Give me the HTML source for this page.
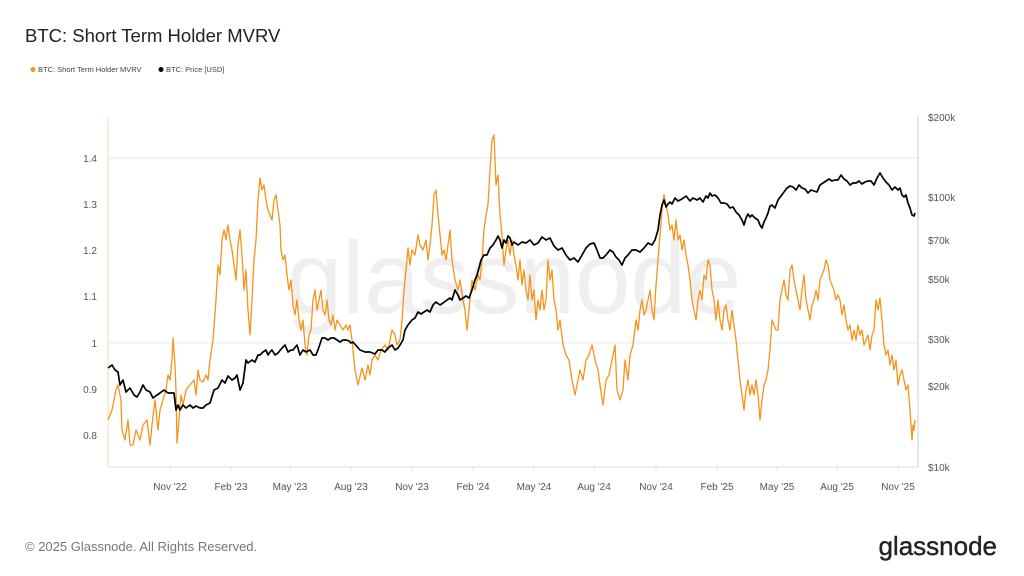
<!DOCTYPE html>
<html><head><meta charset="utf-8"><style>
html,body{margin:0;padding:0;background:#fff;width:1024px;height:576px;overflow:hidden;font-family:"Liberation Sans",sans-serif}
</style></head><body>
<svg width="1024" height="576" xmlns="http://www.w3.org/2000/svg" font-family="Liberation Sans, sans-serif">
<text x="25" y="42" font-size="18.5" fill="#222">BTC: Short Term Holder MVRV</text>
<circle cx="33" cy="69.5" r="2.5" fill="#f7931a"/><text x="38" y="72" font-size="7.5" fill="#444">BTC: Short Term Holder MVRV</text>
<circle cx="161" cy="69.5" r="2.5" fill="#000"/><text x="166" y="72" font-size="7.5" fill="#444">BTC: Price [USD]</text>
<text x="514" y="313" font-size="102" fill="#efefef" text-anchor="middle" textLength="455" lengthAdjust="spacingAndGlyphs">glassnode</text>
<line x1="108" y1="158" x2="918" y2="158" stroke="#e8e8e8"/>
<line x1="108" y1="343" x2="918" y2="343" stroke="#e8e8e8"/>
<line x1="108" y1="117" x2="108" y2="467" stroke="#fbd9b0"/>
<line x1="918" y1="117" x2="918" y2="467" stroke="#ccc"/>
<line x1="108" y1="467" x2="918" y2="467" stroke="#ddd"/>
<g font-size="10" fill="#555" text-anchor="end">
<text x="97" y="162">1.4</text><text x="97" y="208">1.3</text><text x="97" y="254">1.2</text><text x="97" y="300">1.1</text><text x="97" y="347">1</text><text x="97" y="393">0.9</text><text x="97" y="439">0.8</text></g>
<g font-size="10" fill="#555">
<text x="928" y="121">$200k</text><text x="928" y="201">$100k</text><text x="928" y="244">$70k</text><text x="928" y="283">$50k</text><text x="928" y="343">$30k</text><text x="928" y="390">$20k</text><text x="928" y="471">$10k</text></g>
<g font-size="10" fill="#555" text-anchor="middle">
<text x="170" y="490">Nov '22</text><text x="231" y="490">Feb '23</text><text x="290" y="490">May '23</text><text x="351" y="490">Aug '23</text><text x="412" y="490">Nov '23</text><text x="473" y="490">Feb '24</text><text x="534" y="490">May '24</text><text x="594" y="490">Aug '24</text><text x="656" y="490">Nov '24</text><text x="717" y="490">Feb '25</text><text x="777" y="490">May '25</text><text x="837" y="490">Aug '25</text><text x="898" y="490">Nov '25</text></g>
<g stroke="#ddd"><line x1="170" y1="467" x2="170" y2="471"/><line x1="231" y1="467" x2="231" y2="471"/><line x1="290" y1="467" x2="290" y2="471"/><line x1="351" y1="467" x2="351" y2="471"/><line x1="412" y1="467" x2="412" y2="471"/><line x1="473" y1="467" x2="473" y2="471"/><line x1="534" y1="467" x2="534" y2="471"/><line x1="594" y1="467" x2="594" y2="471"/><line x1="656" y1="467" x2="656" y2="471"/><line x1="717" y1="467" x2="717" y2="471"/><line x1="777" y1="467" x2="777" y2="471"/><line x1="837" y1="467" x2="837" y2="471"/><line x1="898" y1="467" x2="898" y2="471"/></g>
<polyline fill="none" stroke="#f7931a" stroke-width="1.3" stroke-linejoin="round" points="108,420 112,410 116,390 118,385 121,400 122,430 125,440 128,420 130,445 133,445 136,430 140,440 143,425 147,420 150,445 152,425 155,400 158,430 160,410 163,400 166,390 168,375 170,380 172,360 173,338 175,365 176,390 177,443 179,420 181,395 183,405 186,390 190,385 194,380 196,395 198,370 200,380 203,382 206,375 208,380 210,360 213,340 216,300 218,265 220,275 222,240 224,230 226,240 228,225 230,240 232,250 234,265 236,280 238,245 240,230 242,255 244,290 246,270 248,310 250,335 252,300 254,260 256,240 258,200 260,178 262,190 264,185 266,200 268,210 270,215 272,220 274,200 276,195 278,210 280,225 281,250 283,260 285,255 287,275 289,290 291,280 293,305 295,315 297,300 299,320 301,330 303,320 305,345 307,355 309,335 311,330 313,300 315,290 317,310 319,300 321,290 323,310 325,315 327,300 329,320 331,325 333,315 335,330 337,320 340,325 343,330 346,325 348,330 350,325 352,340 355,370 358,385 362,368 365,380 368,365 370,375 372,360 375,355 378,360 381,350 385,345 388,350 390,340 392,330 395,335 397,345 400,340 402,320 404,290 406,270 408,248 410,265 412,250 415,255 418,235 420,245 423,250 426,240 428,260 430,245 432,225 434,195 436,190 438,215 440,235 442,255 444,250 446,260 448,245 450,230 452,260 455,280 458,290 460,280 463,300 465,310 467,330 470,300 472,280 475,290 478,275 480,280 482,260 484,230 486,215 488,205 490,170 492,140 494,135 495,160 496,185 498,175 500,215 502,235 504,265 506,250 508,240 510,255 512,240 514,255 516,265 518,280 520,260 522,285 524,270 526,290 528,300 530,275 532,300 534,290 536,320 538,300 540,310 542,290 544,310 546,300 548,260 550,280 552,270 554,300 556,310 558,330 560,320 563,345 566,355 569,360 572,380 575,395 577,385 580,370 583,380 586,360 589,355 592,345 595,360 598,370 600,385 603,405 606,380 609,375 612,360 615,345 617,390 620,400 623,390 625,360 628,380 630,355 633,345 636,320 638,330 640,310 642,300 644,315 646,310 648,300 650,290 652,310 654,320 656,285 658,260 660,235 662,210 664,195 666,205 668,215 670,230 672,225 674,240 676,220 678,240 680,235 682,250 684,240 686,255 688,265 690,280 692,300 694,310 696,320 698,300 700,290 702,300 704,275 706,280 708,260 710,265 712,290 714,300 716,320 718,300 720,320 722,330 724,310 726,305 728,320 730,330 732,310 734,325 736,340 738,360 740,380 742,395 744,410 746,390 748,380 750,395 752,385 754,395 756,380 758,395 760,420 762,400 764,385 766,380 768,370 770,350 772,320 774,325 776,330 778,330 780,300 782,290 784,280 786,295 788,300 790,270 792,265 794,280 796,290 798,300 800,310 802,290 804,275 806,300 808,310 810,320 812,305 814,300 816,290 818,300 820,280 822,275 824,270 826,260 828,265 830,280 832,285 834,290 836,300 838,295 840,300 842,315 844,305 846,320 848,330 850,325 852,340 854,330 856,340 858,325 860,335 862,330 864,345 866,340 868,335 870,350 872,335 874,330 876,300 878,310 880,298 882,320 884,345 886,355 888,350 890,365 892,355 894,370 896,360 898,385 900,375 902,370 904,380 906,390 908,385 910,410 912,440 913,425 914,430 915,420"/>
<polyline fill="none" stroke="#000" stroke-width="1.7" stroke-linejoin="round" points="108,368 112,365 115,370 118,372 120,385 123,380 126,392 130,388 134,395 137,397 140,392 143,385 146,390 150,392 153,398 157,395 160,393 164,390 168,393 172,393 174,393 176,410 178,405 180,410 183,405 186,408 190,405 193,408 196,406 200,408 203,408 206,405 210,403 214,390 218,388 222,380 225,383 228,376 232,380 235,378 237,375 240,390 243,383 246,360 248,363 252,360 255,362 258,355 260,355 263,352 266,350 268,355 270,352 272,350 275,355 278,353 282,348 285,345 288,352 291,350 293,350 297,345 300,355 303,350 306,352 310,350 313,355 316,355 319,347 322,338 325,338 328,340 331,338 334,338 337,340 340,342 343,340 346,340 349,341 351,343 353,342 360,350 365,352 370,352 375,354 378,350 382,350 385,352 388,348 392,345 395,350 398,348 400,345 403,340 405,330 408,325 412,320 415,318 418,312 421,314 424,312 427,310 430,312 433,305 436,302 440,305 443,303 447,300 450,298 452,300 455,290 458,295 460,300 463,298 466,296 469,298 472,290 475,280 477,275 479,268 481,260 484,255 487,255 490,248 493,245 496,240 498,236 500,240 502,248 504,240 506,243 508,236 510,238 512,245 514,242 518,245 522,242 526,243 530,240 534,245 538,243 542,237 546,240 550,238 554,246 558,250 562,248 566,255 570,260 574,258 578,262 582,255 586,248 590,244 594,243 597,250 600,258 603,258 606,255 610,250 613,252 616,257 619,260 622,265 625,258 628,255 632,250 636,250 640,252 644,248 648,243 652,245 655,240 658,230 660,215 662,205 664,200 666,207 668,204 670,202 672,204 675,198 678,201 682,199 686,196 690,201 693,198 697,200 700,198 703,202 706,196 708,198 710,193 712,196 715,195 718,198 721,203 724,203 727,204 730,208 733,207 736,212 739,215 742,220 744,225 746,218 748,214 750,217 752,215 755,218 758,220 760,225 762,228 764,222 766,218 768,213 770,206 772,205 775,208 778,200 781,196 784,192 787,188 790,186 793,187 796,190 799,185 802,188 805,189 808,193 811,190 814,191 817,192 820,185 823,183 826,181 829,179 832,181 835,180 838,180 841,175 844,179 847,181 850,185 853,183 856,183 859,181 862,184 865,182 868,181 871,181 874,185 877,178 880,173 883,178 886,182 889,185 892,190 895,187 898,190 900,188 902,195 904,197 906,195 908,203 910,208 912,215 914,216 915,213"/>
<text x="25" y="551" font-size="13" fill="#777">© 2025 Glassnode. All Rights Reserved.</text>
<text x="997" y="555" font-size="26" fill="#222" text-anchor="end" stroke="#222" stroke-width="0.4">glassnode</text>
</svg>
</body></html>
